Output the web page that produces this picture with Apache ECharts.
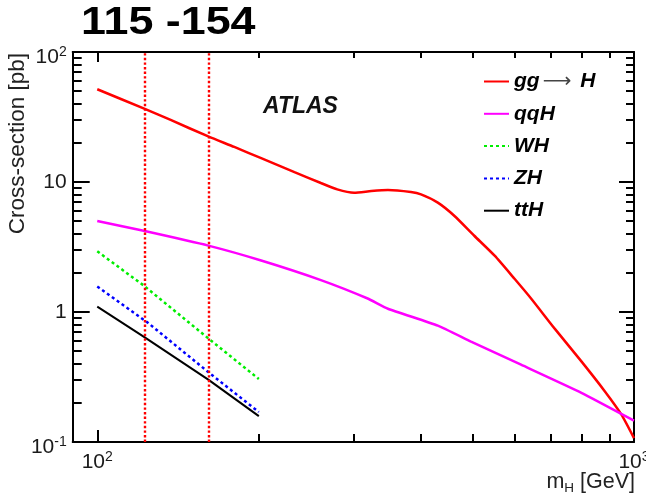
<!DOCTYPE html>
<html>
<head>
<meta charset="utf-8">
<script src="https://cdn.jsdelivr.net/npm/echarts@6/dist/echarts.min.js"></script>
<style>
  html, body { margin: 0; padding: 0; background: #fff; }
  #chart { width: 646px; height: 496px; }
</style>
</head>
<body>
<div id="chart"></div>
<script>
// Higgs production cross-sections vs. Higgs mass (log-log)
const massGG = [100, 122, 137, 161, 180, 202, 233, 261, 280, 301, 324, 348, 384, 401, 431, 463, 504, 550, 599, 643, 711, 798, 882, 947, 1000];
const xsecGG = [51.7, 36.8, 30.0, 22.4, 18.6, 15.25, 11.9, 9.83, 8.77, 8.27, 8.51, 8.66, 8.36, 8.03, 6.94, 5.48, 3.86, 2.71, 1.80, 1.27, 0.748, 0.417, 0.246, 0.163, 0.107];

const massQQH = [100, 122, 161, 202, 261, 319, 348, 431, 497, 616, 798, 1000];
const xsecQQH = [5.02, 4.21, 3.24, 2.49, 1.76, 1.27, 1.06, 0.785, 0.592, 0.393, 0.239, 0.146];

const massWH = [100, 122, 161, 200];
const xsecWH = [2.93, 1.60, 0.627, 0.305];

const massZH = [100, 124, 161, 200];
const xsecZH = [1.57, 0.832, 0.345, 0.170];

const massTTH = [100, 122, 161, 200];
const xsecTTH = [1.10, 0.647, 0.302, 0.158];

// mass window markers
const windowEdges = [122.5, 161];
const windowTitle = '115 -154';

// axis ticks and labelled decades
const xMajor = [100, 1000];
const xMinor = [200, 300, 400, 500, 600, 700, 800, 900];
const yMajor = [0.1, 1, 10, 100];
const yMinor = [0.2, 0.3, 0.4, 0.5, 0.6, 0.7, 0.8, 0.9,
                2, 3, 4, 5, 6, 7, 8, 9,
                20, 30, 40, 50, 60, 70, 80, 90];
const yPlainLabels = [1, 10];
const yExpLabels = [0.1, 100];

const seriesNames = ['gg \u2192 H', 'qqH', 'WH', 'ZH', 'ttH'];

const FONT = '"Liberation Sans", Arial, Helvetica, sans-serif';

function pairs(xs, ys) { return xs.map((x, i) => [x, ys[i]]); }

// decade label: 10 with a raised exponent, or a plain number for 1 and 10
function expLabel(v) {
  return '{n|10}{s|' + Math.round(Math.log10(v)) + '}';
}
function plainLabel(v) {
  return '{n|' + (Math.round(Math.log10(v)) === 0 ? '1' : '10') + '}';
}

const labelRich = {
  n: { fontSize: 21, fontFamily: FONT, color: '#1a1a1a', lineHeight: 24 },
  s: { fontSize: 14, fontFamily: FONT, color: '#1a1a1a', lineHeight: 18, verticalAlign: 'top' }
};

function logAxis(base, extra) {
  return Object.assign({
    type: 'log', logBase: 10, gridIndex: 0,
    splitLine: { show: false },
    axisLine: { show: false },
    axisTick: { show: false },
    axisLabel: { show: false }
  }, base, extra);
}

const xBase = { min: 90, max: 1000 };
const yBase = { min: 0.1, max: 100 };
const frameLine = { show: true, onZero: false, lineStyle: { color: '#000', width: 2 } };
// ticks drawn into the plot area
function ticks(values, len) {
  return { show: true, inside: false, customValues: values, length: -len, lineStyle: { color: '#000', width: 2 } };
}

const chart = echarts.init(document.getElementById('chart'), null, { renderer: 'canvas' });

chart.setOption({
  animation: false,
  backgroundColor: '#fff',
  grid: { left: 72.7, top: 52, width: 561.3, height: 390, containLabel: false, outerBoundsMode: 'none' },
  xAxis: [
    logAxis(xBase, {
      position: 'bottom', axisLine: frameLine, axisTick: ticks(xMajor, 12),
      axisLabel: { show: true, customValues: xMajor, margin: 8, formatter: expLabel, rich: labelRich }
    }),
    logAxis(xBase, { position: 'bottom', axisTick: ticks(xMinor, 8) }),
    logAxis(xBase, { position: 'top', axisLine: frameLine, axisTick: ticks(xMajor, 10) }),
    logAxis(xBase, { position: 'top', axisTick: ticks(xMinor, 6) })
  ],
  yAxis: [
    logAxis(yBase, {
      position: 'left', axisLine: frameLine, axisTick: ticks(yMajor, 17),
      axisLabel: { show: true, customValues: yPlainLabels, margin: 6, formatter: plainLabel, rich: labelRich }
    }),
    logAxis(yBase, {
      position: 'left', axisTick: ticks(yMinor, 9),
      axisLabel: { show: true, customValues: yExpLabels, margin: 6, padding: [10, 0, 0, 0], formatter: expLabel, rich: labelRich }
    }),
    logAxis(yBase, { position: 'right', axisLine: frameLine, axisTick: ticks(yMajor, 15) }),
    logAxis(yBase, { position: 'right', axisTick: ticks(yMinor, 8) })
  ],
  legend: {
    data: seriesNames,
    orient: 'vertical',
    left: 483, top: 71,
    padding: 0,
    itemWidth: 25, itemHeight: 14, itemGap: 11.3,
    selectedMode: false,
    itemStyle: { opacity: 0 },
    formatter: name => name === seriesNames[0]
      ? '{t|gg}{a|\u27F6}{t|H}'
      : '{t|' + name + '}',
    textStyle: {
      rich: {
        t: { fontSize: 21, fontFamily: FONT, fontStyle: 'italic', fontWeight: 'bold', color: '#000' },
        a: { fontSize: 20, fontFamily: '"DejaVu Sans", sans-serif', color: '#444', padding: [0, 9, 0, 3] }
      }
    }
  },
  series: [
    {
      name: seriesNames[0], type: 'line', xAxisIndex: 0, yAxisIndex: 0,
      data: pairs(massGG, xsecGG), symbol: 'none', smooth: 0.2,
      lineStyle: { color: '#ff0000', width: 2.5 }, itemStyle: { color: '#ff0000' }
    },
    {
      name: seriesNames[1], type: 'line', xAxisIndex: 0, yAxisIndex: 0,
      data: pairs(massQQH, xsecQQH), symbol: 'none', smooth: 0.15,
      lineStyle: { color: '#ff00ff', width: 2.5 }, itemStyle: { color: '#ff00ff' }
    },
    {
      name: seriesNames[2], type: 'line', xAxisIndex: 0, yAxisIndex: 0,
      data: pairs(massWH, xsecWH), symbol: 'none',
      lineStyle: { color: '#00ee00', width: 2.5, type: [3, 3] }, itemStyle: { color: '#00ee00' }
    },
    {
      name: seriesNames[3], type: 'line', xAxisIndex: 0, yAxisIndex: 0,
      data: pairs(massZH, xsecZH), symbol: 'none',
      lineStyle: { color: '#0000ff', width: 2.5, type: [3, 3] }, itemStyle: { color: '#0000ff' }
    },
    {
      name: seriesNames[4], type: 'line', xAxisIndex: 0, yAxisIndex: 0,
      data: pairs(massTTH, xsecTTH), symbol: 'none',
      lineStyle: { color: '#000', width: 2 }, itemStyle: { color: '#000' }
    },
    {
      name: 'window', type: 'line', xAxisIndex: 0, yAxisIndex: 0, data: [],
      markLine: {
        silent: true, symbol: ['none', 'none'], label: { show: false },
        lineStyle: { color: '#ff0000', width: 2.4, type: [2.4, 2.2] },
        data: windowEdges.map(v => ({ xAxis: v }))
      }
    }
  ],
  graphic: [
    {
      type: 'text', x: 81, y: 24, scaleX: 1.18,
      style: { text: windowTitle, font: 'bold 38px ' + FONT, fill: '#000', align: 'left', verticalAlign: 'middle' }
    },
    {
      type: 'text', x: 263, y: 106.5,
      style: { text: 'ATLAS', font: 'italic bold 23px ' + FONT, fill: '#111', align: 'left', verticalAlign: 'middle' }
    },
    {
      type: 'text', x: 17.5, y: 53, rotation: Math.PI / 2,
      style: { text: 'Cross-section [pb]', font: '22.5px ' + FONT, fill: '#222', align: 'right', verticalAlign: 'middle' }
    },
    {
      type: 'text', x: 635, y: 482,
      style: {
        text: '{m|m}{h|H}{m| [GeV]}', align: 'right', verticalAlign: 'middle',
        rich: {
          m: { fontSize: 21.5, fontFamily: FONT, fill: '#222', lineHeight: 26 },
          h: { fontSize: 13.5, fontFamily: FONT, fill: '#222', lineHeight: 13, verticalAlign: 'bottom' }
        }
      }
    }
  ]
});
</script>
</body>
</html>
